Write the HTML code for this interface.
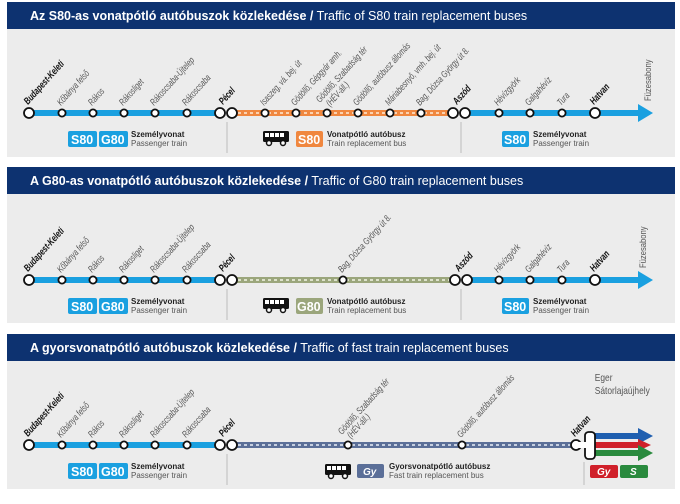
<!DOCTYPE html>
<html><head><meta charset="utf-8"><style>
html,body{margin:0;padding:0;background:#fff}
svg{display:block}
text{font-family:"Liberation Sans",sans-serif}
.st{font-size:9.5px;fill:#555;font-style:italic}
.stb{font-size:10px;fill:#111;font-weight:bold;font-style:italic}
.ttl{font-size:12.5px;fill:#fff;font-weight:bold}
.ttn{font-size:12.5px;fill:#fff}
.lg1{font-size:8px;font-weight:bold;fill:#222}
.lg2{font-size:8px;fill:#555}
.bd{font-size:12.5px;font-weight:bold;fill:#fff}
</style></head><body>
<svg width="680" height="504" viewBox="0 0 680 504" xmlns="http://www.w3.org/2000/svg">
<defs>
<g id="bus"><rect x="0" y="0" width="26" height="11" rx="1.5" fill="#111"/><rect x="2" y="2" width="4" height="4" fill="#fff"/><rect x="7" y="2" width="4" height="4" fill="#fff"/><rect x="12" y="2" width="4" height="4" fill="#fff"/><rect x="17" y="2" width="4" height="4" fill="#fff"/><circle cx="6" cy="12" r="2.5" fill="#fff" stroke="#111" stroke-width="1.5"/><circle cx="20" cy="12" r="2.5" fill="#fff" stroke="#111" stroke-width="1.5"/></g>
</defs>

<!-- PANEL 1 -->
<rect x="7" y="2" width="668" height="27" fill="#0d3270"/>
<text x="30" y="20"><tspan class="ttl">Az S80-as vonatpótló autóbuszok közlekedése /</tspan><tspan class="ttn"> Traffic of S80 train replacement buses</tspan></text>
<rect x="7" y="29" width="668" height="128" fill="#ececec"/>
<line x1="29" y1="113" x2="220" y2="113" stroke="#1aa0e0" stroke-width="6"/>
<line x1="232" y1="113" x2="453" y2="113" stroke="#f0873f" stroke-width="6"/>
<line x1="232" y1="113" x2="453" y2="113" stroke="#fbd2b0" stroke-width="2" stroke-dasharray="3,3"/>
<line x1="465" y1="113" x2="640" y2="113" stroke="#1aa0e0" stroke-width="6"/>
<polygon points="638,104 653,113 638,122" fill="#1aa0e0"/>
<g fill="#fff" stroke="#111" stroke-width="1.8">
<circle cx="29" cy="113" r="5"/><circle cx="62" cy="113" r="3.6"/><circle cx="93" cy="113" r="3.6"/><circle cx="124" cy="113" r="3.6"/><circle cx="155" cy="113" r="3.6"/><circle cx="187" cy="113" r="3.6"/>
<circle cx="220" cy="113" r="5"/><circle cx="232" cy="113" r="5"/>
<circle cx="265" cy="113" r="3.6"/><circle cx="296" cy="113" r="3.6"/><circle cx="327" cy="113" r="3.6"/><circle cx="358" cy="113" r="3.6"/><circle cx="390" cy="113" r="3.6"/><circle cx="421" cy="113" r="3.6"/>
<circle cx="453" cy="113" r="5"/><circle cx="465" cy="113" r="5"/>
<circle cx="499" cy="113" r="3.6"/><circle cx="530" cy="113" r="3.6"/><circle cx="562" cy="113" r="3.6"/><circle cx="595" cy="113" r="5"/>
</g>
<g id="l1">
<text class="stb" transform="translate(28,105) rotate(-48) scale(0.72,1)">Budapest-Keleti</text>
<text class="st" transform="translate(61,106) rotate(-48) scale(0.72,1)">Kőbánya felső</text>
<text class="st" transform="translate(92,106) rotate(-48) scale(0.72,1)">Rákos</text>
<text class="st" transform="translate(123,106) rotate(-48) scale(0.72,1)">Rákosliget</text>
<text class="st" transform="translate(154,106) rotate(-48) scale(0.72,1)">Rákoscsaba-Újtelep</text>
<text class="st" transform="translate(186,106) rotate(-48) scale(0.72,1)">Rákoscsaba</text>
<text class="stb" transform="translate(223,105) rotate(-48) scale(0.72,1)">Pécel</text>
</g>
<text class="st" transform="translate(264,106) rotate(-48) scale(0.72,1)">Isaszeg, vá. bej. út</text>
<text class="st" transform="translate(295,106) rotate(-48) scale(0.72,1)">Gödöllő, Gépgyár amh.</text>
<text class="st" transform="translate(320,103) rotate(-48) scale(0.72,1)">Gödöllő, Szabadság tér</text>
<text class="st" transform="translate(330,107) rotate(-48) scale(0.72,1)">(HÉV-áll.)</text>
<text class="st" transform="translate(357,106) rotate(-48) scale(0.72,1)">Gödöllő, autóbusz állomás</text>
<text class="st" transform="translate(389,106) rotate(-48) scale(0.72,1)">Máriabesnyő, vmh. bej. út</text>
<text class="st" transform="translate(420,106) rotate(-48) scale(0.72,1)">Bag, Dózsa György út 8.</text>
<text class="stb" transform="translate(457,105) rotate(-48) scale(0.72,1)">Aszód</text>
<text class="st" transform="translate(498,106) rotate(-48) scale(0.72,1)">Hévízgyörk</text>
<text class="st" transform="translate(529,106) rotate(-48) scale(0.72,1)">Galgahévíz</text>
<text class="st" transform="translate(561,106) rotate(-48) scale(0.72,1)">Tura</text>
<text class="stb" transform="translate(594,105) rotate(-48) scale(0.72,1)">Hatvan</text>
<text class="st" style="font-style:normal;font-size:9px" transform="translate(651,101) rotate(-90) scale(0.85,1)">Füzesabony</text>
<line x1="227" y1="122" x2="227" y2="153" stroke="#bbb" stroke-width="1"/>
<line x1="461" y1="122" x2="461" y2="153" stroke="#bbb" stroke-width="1"/>
<rect x="68" y="131" width="29" height="16" rx="2" fill="#1aa0e0"/><text class="bd" x="71" y="144">S80</text>
<rect x="99" y="131" width="29" height="16" rx="2" fill="#1aa0e0"/><text class="bd" x="101" y="144">G80</text>
<text class="lg1" x="131" y="137">Személyvonat</text><text class="lg2" x="131" y="146">Passenger train</text>
<use href="#bus" x="263" y="131"/>
<rect x="296" y="131" width="27" height="16" rx="2" fill="#f0873f"/><text class="bd" x="298" y="144">S80</text>
<text class="lg1" x="327" y="137">Vonatpótló autóbusz</text><text class="lg2" x="327" y="146">Train replacement bus</text>
<rect x="502" y="131" width="27" height="16" rx="2" fill="#1aa0e0"/><text class="bd" x="504" y="144">S80</text>
<text class="lg1" x="533" y="137">Személyvonat</text><text class="lg2" x="533" y="146">Passenger train</text>

<!-- PANEL 2 -->
<rect x="7" y="167" width="668" height="27" fill="#0d3270"/>
<text x="30" y="185"><tspan class="ttl">A G80-as vonatpótló autóbuszok közlekedése /</tspan><tspan class="ttn"> Traffic of G80 train replacement buses</tspan></text>
<rect x="7" y="194" width="668" height="129" fill="#ececec"/>
<line x1="29" y1="280" x2="220" y2="280" stroke="#1aa0e0" stroke-width="6"/>
<line x1="232" y1="280" x2="455" y2="280" stroke="#9ba67c" stroke-width="6"/>
<line x1="232" y1="280" x2="455" y2="280" stroke="#dde2cc" stroke-width="2" stroke-dasharray="3,3"/>
<line x1="467" y1="280" x2="640" y2="280" stroke="#1aa0e0" stroke-width="6"/>
<polygon points="638,271 653,280 638,289" fill="#1aa0e0"/>
<g fill="#fff" stroke="#111" stroke-width="1.8">
<circle cx="29" cy="280" r="5"/><circle cx="62" cy="280" r="3.6"/><circle cx="93" cy="280" r="3.6"/><circle cx="124" cy="280" r="3.6"/><circle cx="155" cy="280" r="3.6"/><circle cx="187" cy="280" r="3.6"/>
<circle cx="220" cy="280" r="5"/><circle cx="232" cy="280" r="5"/>
<circle cx="343" cy="280" r="3.6"/>
<circle cx="455" cy="280" r="5"/><circle cx="467" cy="280" r="5"/>
<circle cx="499" cy="280" r="3.6"/><circle cx="530" cy="280" r="3.6"/><circle cx="562" cy="280" r="3.6"/><circle cx="595" cy="280" r="5"/>
</g>
<text class="stb" transform="translate(28,272) rotate(-48) scale(0.72,1)">Budapest-Keleti</text>
<text class="st" transform="translate(61,273) rotate(-48) scale(0.72,1)">Kőbánya felső</text>
<text class="st" transform="translate(92,273) rotate(-48) scale(0.72,1)">Rákos</text>
<text class="st" transform="translate(123,273) rotate(-48) scale(0.72,1)">Rákosliget</text>
<text class="st" transform="translate(154,273) rotate(-48) scale(0.72,1)">Rákoscsaba-Újtelep</text>
<text class="st" transform="translate(186,273) rotate(-48) scale(0.72,1)">Rákoscsaba</text>
<text class="stb" transform="translate(223,272) rotate(-48) scale(0.72,1)">Pécel</text>
<text class="st" transform="translate(342,273) rotate(-48) scale(0.72,1)">Bag, Dózsa György út 8.</text>
<text class="stb" transform="translate(459,272) rotate(-48) scale(0.72,1)">Aszód</text>
<text class="st" transform="translate(498,273) rotate(-48) scale(0.72,1)">Hévízgyörk</text>
<text class="st" transform="translate(529,273) rotate(-48) scale(0.72,1)">Galgahévíz</text>
<text class="st" transform="translate(561,273) rotate(-48) scale(0.72,1)">Tura</text>
<text class="stb" transform="translate(594,272) rotate(-48) scale(0.72,1)">Hatvan</text>
<text class="st" style="font-style:normal;font-size:9px" transform="translate(646,268) rotate(-90) scale(0.85,1)">Füzesabony</text>
<line x1="227" y1="289" x2="227" y2="320" stroke="#bbb" stroke-width="1"/>
<line x1="461" y1="289" x2="461" y2="320" stroke="#bbb" stroke-width="1"/>
<rect x="68" y="298" width="29" height="16" rx="2" fill="#1aa0e0"/><text class="bd" x="71" y="311">S80</text>
<rect x="99" y="298" width="29" height="16" rx="2" fill="#1aa0e0"/><text class="bd" x="101" y="311">G80</text>
<text class="lg1" x="131" y="304">Személyvonat</text><text class="lg2" x="131" y="313">Passenger train</text>
<use href="#bus" x="263" y="298"/>
<rect x="296" y="298" width="27" height="16" rx="2" fill="#9ba67c"/><text class="bd" x="297" y="311">G80</text>
<text class="lg1" x="327" y="304">Vonatpótló autóbusz</text><text class="lg2" x="327" y="313">Train replacement bus</text>
<rect x="502" y="298" width="27" height="16" rx="2" fill="#1aa0e0"/><text class="bd" x="504" y="311">S80</text>
<text class="lg1" x="533" y="304">Személyvonat</text><text class="lg2" x="533" y="313">Passenger train</text>

<!-- PANEL 3 -->
<rect x="7" y="334" width="668" height="27" fill="#0d3270"/>
<text x="30" y="352"><tspan class="ttl">A gyorsvonatpótló autóbuszok közlekedése /</tspan><tspan class="ttn"> Traffic of fast train replacement buses</tspan></text>
<rect x="7" y="361" width="668" height="128" fill="#ececec"/>
<line x1="29" y1="445" x2="220" y2="445" stroke="#1aa0e0" stroke-width="6"/>
<line x1="232" y1="445" x2="574" y2="445" stroke="#5b6f98" stroke-width="6"/>
<line x1="232" y1="445" x2="574" y2="445" stroke="#c6cfe0" stroke-width="2" stroke-dasharray="3,3"/>
<line x1="595" y1="436" x2="640" y2="436" stroke="#1f5fb0" stroke-width="6"/><polygon points="638,428 653,436 638,444" fill="#1f5fb0"/>
<line x1="595" y1="445" x2="640" y2="445" stroke="#d0202a" stroke-width="6"/><polygon points="638,439 651,445 638,451" fill="#d0202a"/>
<line x1="595" y1="453" x2="640" y2="453" stroke="#2a8a3e" stroke-width="6"/><polygon points="638,445 653,453 638,461" fill="#2a8a3e"/>
<g fill="#fff" stroke="#111" stroke-width="1.8">
<circle cx="29" cy="445" r="5"/><circle cx="62" cy="445" r="3.6"/><circle cx="93" cy="445" r="3.6"/><circle cx="124" cy="445" r="3.6"/><circle cx="155" cy="445" r="3.6"/><circle cx="187" cy="445" r="3.6"/>
<circle cx="220" cy="445" r="5"/><circle cx="232" cy="445" r="5"/>
<circle cx="348" cy="445" r="3.6"/><circle cx="462" cy="445" r="3.6"/>
<circle cx="576" cy="445" r="5"/>
<rect x="585" y="432" width="10" height="27" rx="3.5"/>
</g>
<rect x="578" y="442" width="9" height="6" fill="#fff"/>
<text class="stb" transform="translate(28,437) rotate(-48) scale(0.72,1)">Budapest-Keleti</text>
<text class="st" transform="translate(61,438) rotate(-48) scale(0.72,1)">Kőbánya felső</text>
<text class="st" transform="translate(92,438) rotate(-48) scale(0.72,1)">Rákos</text>
<text class="st" transform="translate(123,438) rotate(-48) scale(0.72,1)">Rákosliget</text>
<text class="st" transform="translate(154,438) rotate(-48) scale(0.72,1)">Rákoscsaba-Újtelep</text>
<text class="st" transform="translate(186,438) rotate(-48) scale(0.72,1)">Rákoscsaba</text>
<text class="stb" transform="translate(223,437) rotate(-48) scale(0.72,1)">Pécel</text>
<text class="st" transform="translate(342,435) rotate(-48) scale(0.72,1)">Gödöllő, Szabadság tér</text>
<text class="st" transform="translate(351,439) rotate(-48) scale(0.72,1)">(HÉV-áll.)</text>
<text class="st" transform="translate(461,438) rotate(-48) scale(0.72,1)">Gödöllő, autóbusz állomás</text>
<text class="stb" transform="translate(575,437) rotate(-48) scale(0.72,1)">Hatvan</text>
<text x="595" y="381" style="font-size:10px;fill:#555" transform="translate(95,0) scale(0.84,1)">Eger</text>
<text x="595" y="394" style="font-size:10px;fill:#555" transform="translate(95,0) scale(0.84,1)">Sátorlajaújhely</text>
<line x1="227" y1="454" x2="227" y2="485" stroke="#bbb" stroke-width="1"/>
<line x1="584" y1="462" x2="584" y2="485" stroke="#bbb" stroke-width="1"/>
<rect x="68" y="463" width="29" height="16" rx="2" fill="#1aa0e0"/><text class="bd" x="71" y="476">S80</text>
<rect x="99" y="463" width="29" height="16" rx="2" fill="#1aa0e0"/><text class="bd" x="101" y="476">G80</text>
<text class="lg1" x="131" y="469">Személyvonat</text><text class="lg2" x="131" y="478">Passenger train</text>
<use href="#bus" x="325" y="464"/>
<rect x="357" y="464" width="27" height="14" rx="2" fill="#5b6f98"/><text class="bd" x="363" y="475" style="font-size:10px;font-style:italic">Gy</text>
<text class="lg1" x="389" y="469">Gyorsvonatpótló autóbusz</text><text class="lg2" x="389" y="478">Fast train replacement bus</text>
<rect x="590" y="465" width="28" height="13" rx="2" fill="#d0202a"/><text class="bd" x="597" y="475" style="font-size:10px;font-style:italic">Gy</text>
<rect x="620" y="465" width="28" height="13" rx="2" fill="#2a8a3e"/><text class="bd" x="630" y="475" style="font-size:10px;font-style:italic">S</text>
</svg>
</body></html>
